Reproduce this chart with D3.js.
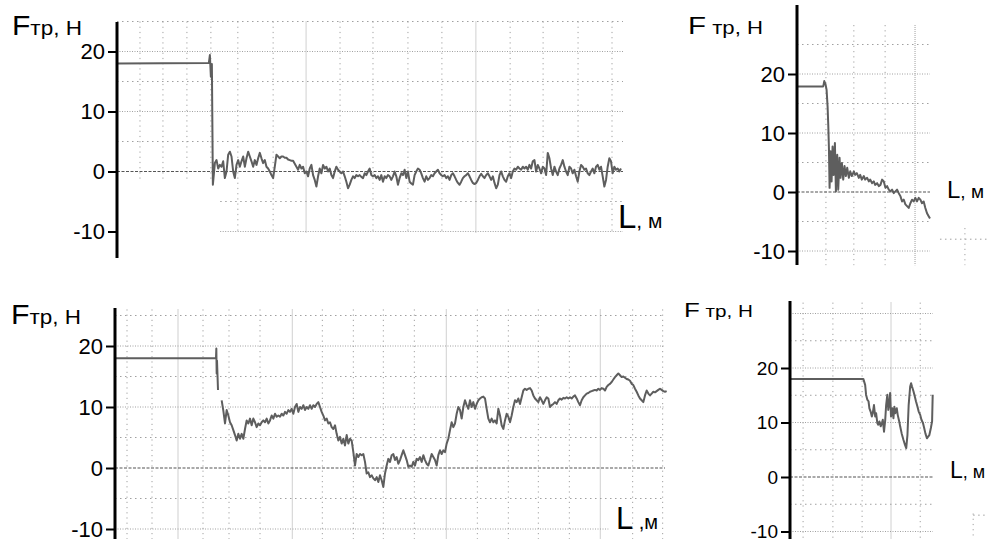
<!DOCTYPE html>
<html>
<head>
<meta charset="utf-8">
<script src="https://cdn.jsdelivr.net/npm/d3@7"></script>
<style>
  body { margin: 0; background: #fff; }
  svg { display: block; font-family: Arial, "Liberation Sans", sans-serif; }
</style>
</head>
<body>
<div class="chart"></div>
<script>
const width = 988
const height = 539

// Friction force F (N) against path L (m), four runs

const yTicks = [20, 10, 0, -10]
const gridF = [25, 20, 15, 10, 5, 0, -5, -10]
const gridF4 = [30, 25, 20, 15, 10, 5, 0, -5, -10]

// run 1 - top left
const run1Flat = [[0, 18.0], [2.76, 18.1], [2.79, 19.4], [2.82, 15.8], [2.85, 17.9], [2.88, -2.2]]
const run1Start = 2.94
const run1Step = 0.05
const run1F = [
  1.4, 1.9, 0.5, 1.1, 0.8, 1.7, -1.1, 0, 2.8, 3.3, 2.5, 0, -1.1, 1.1, 1.9, 0.8, 1.7, 2.5, 0.8, 2.2,
  3.3, 2.5, 1.7, 0.8, 1.9, 1.1, 2.2, 3.1, 2.2, 1.4, 1.9, 0.8, 0.5, 0, -0.6, -1.1, 0.8, 2.8, 2.5, 2.2,
  2.5, 2.5, 2.3, 2.3, 2.0, 1.9, 1.8, 1.8, 1.3, 0.8, 0.3, 1.1, 0.5, 0.8, -0.3, 0, -0.8, 0.5, 1.1, -0.6,
  -1.4, -2.5, -0.8, 0.5, -0.3, 1.1, 0.5, 0.8, 0, 0.5, -0.6, -1.1, 0, 0.8, 0.3, 0, -0.3, 0, -0.8, -1.7,
  -2.8, -2.2, -1.4, -0.8, -1.1, -0.6, -0.8, -0.6, -0.9, -1.1, -0.3, -0.6, 0, 0.5, -0.6, -0.8, -0.6, -1.1, -0.8, -1.4,
  -0.6, -1.7, -0.8, -1.1, -0.6, -0.8, -1.4, -0.8, 0, -0.8, -2.2, -1.1, -0.3, -0.6, 0.3, -1.1, 0, -1.7, -2.0, -2.2,
  -0.6, 0, 0.5, 0.3, -0.3, -1.1, -1.7, -0.8, -1.4, -1.1, -0.6, -0.8, -0.3, 0, 0.3, -0.3, -0.6, -0.8, -0.6, -1.1,
  -0.8, -1.4, -0.6, -0.3, -0.8, -1.4, -1.9, -2.2, -1.7, -1.1, -0.8, -0.6, -0.3, -0.8, -1.4, -1.9, -2.1, -1.9, -1.4, -0.8,
  -0.4, -0.8, -1.1, -0.6, -0.3, -0.8, -1.4, -0.8, -1.9, -2.8, -2.2, -0.6, 0, -0.8, -1.4, -1.7, -0.8, -0.3, -1.1, 0,
  0.5, 0.3, 0.8, 0.5, 0.3, 0.8, 0.5, 0.8, 0.3, 1.1, 0.5, 1.7, 1.9, 0, 1.1, 0.5, -0.3, 0.8, 0.5, -0.6,
  3.1, 2.2, 0.5, -0.6, 0.8, 0, -0.6, 0.5, 1.1, 1.9, 0.8, 0, -0.6, 0.8, 0.5, -0.3, 0.3, -0.8, -1.7, 0,
  1.1, 0.8, 0.3, 0.5, -0.3, -0.6, 0, 0.5, -0.3, 0.8, 1.1, 0.3, 0.8, -0.8, -2.5, -1.4, 0.8, 2.2, 1.7, -0.3,
  0.8, 0.3, 0.5, 0, 0.5
]
const run1GridL = [0.69, 1.38, 2.10, 2.82, 3.63, 4.69, 5.68, 6.70, 7.69, 8.74, 9.76, 10.78, 11.81, 12.80, 13.85, 14.87]
const run1StrongL = [5.68, 10.78]

// run 2 - top right
const run2 = [
  [0, 17.9], [0.79, 17.9], [0.82, 18.8], [0.86, 18.2], [0.89, 17.3], [0.92, 14.5], [0.94, 11.4], [0.96, 7.5],
  [0.98, 0.7], [1.01, 6.9], [1.04, 1.8], [1.07, 7.7], [1.10, 2.9], [1.14, 8.3], [1.17, 0.1], [1.21, 6.3],
  [1.24, 0.4], [1.28, 5.8], [1.31, 2.4], [1.35, 4.9], [1.39, 2.1], [1.43, 4.4], [1.47, 2.7], [1.51, 4.1],
  [1.56, 2.4], [1.60, 3.5], [1.65, 2.7], [1.71, 3.5], [1.75, 2.9], [1.80, 3.2], [1.86, 2.4], [1.90, 2.9],
  [1.95, 2.1], [2.01, 2.7], [2.05, 2.1], [2.11, 2.4], [2.16, 1.8], [2.20, 2.1], [2.26, 1.5], [2.31, 1.8],
  [2.35, 1.2], [2.41, 1.5], [2.46, 1.0], [2.51, 1.2], [2.56, 2.1], [2.61, 1.8], [2.66, 0.7], [2.71, 1.0],
  [2.76, 0.4], [2.81, 0.1], [2.86, 0.4], [2.91, -0.2], [2.96, 0.1], [3.01, 0.4], [3.06, -0.2], [3.11, -0.7],
  [3.16, -1.6], [3.21, -1.3], [3.26, -2.1], [3.31, -2.4], [3.36, -2.7], [3.41, -1.9], [3.46, -1.3], [3.51, -1.6],
  [3.56, -1.0], [3.61, -1.6], [3.66, -1.0], [3.71, -1.3], [3.76, -1.9], [3.81, -1.6], [3.86, -2.7], [3.91, -3.6],
  [3.96, -4.1], [4.0, -4.5]
]
const run2GridL = [0.87, 1.71, 2.65, 3.55]
const run2StrongL = [3.55]

// run 3 - bottom left
const run3Flat = [[0, 18.0], [3.03, 18.0], [3.04, 19.6], [3.05, 15.5], [3.06, 17.6], [3.09, 12.8]]
const run3Start = 3.20
const run3Step = 0.05
const run3F = [
  11.1, 9.4, 7.3, 9.5, 8.6, 7.5, 7.0, 6.2, 5.4, 4.5, 5.6, 4.8, 5.6, 4.8, 6.4, 7.8, 7.3, 8.1, 7.0, 8.1,
  7.5, 6.7, 7.3, 7.0, 7.5, 7.8, 7.5, 8.1, 7.3, 7.8, 8.6, 8.1, 8.9, 8.4, 8.6, 8.4, 8.9, 8.6, 9.2, 8.9,
  9.5, 9.2, 9.7, 8.9, 10.0, 10.5, 9.2, 10.0, 9.7, 10.3, 9.5, 10.0, 9.7, 10.3, 9.7, 10.3, 10.0, 10.5, 10.8, 10.0,
  9.2, 8.6, 7.8, 8.1, 7.3, 7.5, 6.7, 6.4, 7.0, 5.6, 4.5, 5.1, 4.0, 4.8, 3.7, 5.4, 4.0, 4.8, 4.5, 2.6,
  0.4, 2.3, 1.8, 2.3, 2.1, 2.3, 1.0, -0.9, -0.7, -1.5, -1.2, -1.7, -2.0, -1.5, -2.3, -1.2, -2.0, -3.1, -0.9, 0.4,
  1.5, 1.0, 2.1, 2.3, 1.3, 1.8, 0.7, 1.3, 2.1, 2.9, 2.1, 1.3, 0.2, 0.4, 0.2, 1.0, 0.4, 1.5, 1.3, 1.8,
  1.0, 2.1, 1.3, 0.7, 0.4,
  1.3, 2.3, 1.8, 1.3, 0.4, 2.1, 2.9, 2.3, 2.9, 2.6, 4.0, 4.8, 6.2, 7.5, 6.7, 7.3, 8.9, 10.0, 9.5, 8.1,
  10.0, 11.1, 10.3, 9.7, 11.1, 10.0, 10.8, 9.7, 10.5, 11.1, 11.4, 11.6, 11.7, 11.4, 9.7, 8.1, 7.5, 8.1, 7.5, 7.8,
  7.3, 9.7, 8.6, 7.0, 6.4, 7.8, 8.9, 8.4, 7.5, 8.6, 10.0, 11.1, 10.8, 11.4, 10.5, 11.6, 12.7, 13.0, 12.8, 13.0,
  13.1, 12.7, 11.9, 11.4, 11.1, 10.8, 11.6, 11.1, 10.5, 11.1, 11.6, 11.4, 10.0, 10.3, 10.5, 10.8, 10.5, 11.1, 11.4, 11.2,
  11.5, 11.4, 11.6, 11.4, 11.6, 11.4, 11.7, 11.9, 11.4, 10.8, 10.3, 11.1, 11.6, 11.9, 12.2, 12.3, 12.5, 12.6, 12.7, 12.8,
  12.7, 13.0, 12.8, 13.1, 13.0, 12.7, 13.3, 13.6, 13.8, 14.1, 14.5, 14.9, 15.2, 15.5, 15.2, 14.9, 15.0, 14.8, 14.6, 14.5,
  14.3, 13.8, 13.6, 13.0, 12.5, 11.9, 11.4, 11.1, 10.8, 11.9, 12.7, 12.2, 11.9, 12.2, 12.5, 12.4, 12.6, 12.8, 13.0, 12.8,
  12.6, 12.5, 12.6
]
const run3GridL = [0.36, 1.11, 1.89, 2.64, 3.42, 4.35, 5.32, 6.22, 7.15, 8.05, 8.98, 9.94, 10.87, 11.80, 12.70, 13.63, 14.56, 15.53, 16.43]
const run3StrongL = [1.89, 5.32, 9.94, 14.56]

// run 4 - bottom right
const run4 = [
  [0, 18.0], [2.41, 18.0], [2.47, 16.9], [2.50, 15.1], [2.54, 14.2], [2.58, 13.9], [2.61, 12.6], [2.65, 12.0],
  [2.69, 11.1], [2.72, 11.7], [2.76, 13.2], [2.80, 11.1], [2.83, 11.7], [2.87, 9.9], [2.90, 9.6], [2.94, 10.2],
  [2.98, 9.3], [3.02, 9.9], [3.05, 10.5], [3.09, 8.3], [3.13, 10.5], [3.16, 13.2], [3.20, 15.1], [3.23, 12.3],
  [3.27, 13.9], [3.29, 15.4], [3.32, 11.1], [3.36, 12.6], [3.40, 10.8], [3.43, 12.9], [3.46, 11.7], [3.51, 12.6],
  [3.54, 11.4], [3.59, 10.2], [3.62, 9.3], [3.67, 8.0], [3.73, 6.8], [3.78, 5.9], [3.82, 5.3], [3.86, 7.7],
  [3.90, 13.2], [3.95, 16.6], [3.98, 17.2], [4.01, 16.6], [4.06, 15.7], [4.10, 14.8], [4.14, 13.9], [4.19, 12.9],
  [4.23, 12.0], [4.28, 11.4], [4.32, 10.5], [4.37, 9.9], [4.41, 9.0], [4.45, 8.0], [4.50, 7.1], [4.54, 7.4],
  [4.58, 7.7], [4.63, 9.0], [4.67, 10.2], [4.69, 15.1]
]
const run4GridL = [0.43, 1.41, 2.37, 3.32, 4.28]
const run4StrongL = [3.32]

// build [L, F] points for the evenly sampled parts
function sampled(start, step, values) {
  return values.map((f, i) => [start + i * step, f])
}

// layout of the four panels (pixels)
const panels = [
  {
    xRange: [117, 623], xDomain: [0, 15.2], yRange: [231.5, 51.5], axisTop: 22, axisBottom: 258,
    series: [run1Flat.concat(sampled(run1Start, run1Step, run1F))],
    hGrid: gridF, hFrom: f => f < 0 ? 3.1 : 0, hTo: 15.2,
    vGrid: run1GridL, strong: run1StrongL, vTop: 25, vBottom: l => l < 3 ? -1.5 : -10.3,
    extra: [],
    tickSize: 22,
    title: { x: 12, y: 35, w: 70, parts: [["F", 28], ["тр, Н", 21]] },
    lLabel: { x: 618, y: 228, parts: [["L", 33], [", м", 21]] }
  },
  {
    xRange: [797, 930], xDomain: [0, 4], yRange: [251, 74], axisTop: 5, axisBottom: 265,
    series: [run2],
    hGrid: gridF, hFrom: () => 0, hTo: 4,
    vGrid: run2GridL, strong: run2StrongL, vTop: 28.3, vBottom: () => -12.4,
    extra: [{ h: -8, from: 4.3, to: 5.8 }, { v: 5.05, from: -6.1, to: -12.4 }],
    tickSize: 22,
    title: { x: 688, y: 34, w: 75, parts: [["F", 24], [" тр, Н", 18]] },
    lLabel: { x: 947, y: 198, parts: [["L", 24], [", м", 19]] }
  },
  {
    xRange: [115, 665], xDomain: [0, 16.5], yRange: [529, 346], axisTop: 308, axisBottom: 539,
    series: [run3Flat, sampled(run3Start, run3Step, run3F)],
    hGrid: gridF, hFrom: () => 0, hTo: f => f === -10 ? 14.8 : 16.5,
    vGrid: run3GridL, strong: run3StrongL, vTop: 26, vBottom: () => -12,
    extra: [],
    tickSize: 22,
    title: { x: 11, y: 324, w: 70, parts: [["F", 27], ["тр, Н", 20]] },
    lLabel: { x: 616, y: 529, parts: [["L", 31], [" ,м", 20]] }
  },
  {
    xRange: [790, 933], xDomain: [0, 4.7], yRange: [531.5, 368], axisTop: 301, axisBottom: 539,
    series: [run4],
    hGrid: gridF4, hFrom: () => 0, hTo: 4.7,
    vGrid: run4GridL, strong: run4StrongL, vTop: 32, vBottom: () => -11.5,
    extra: [{ h: -7, from: 6.02, to: 6.6 }, { v: 6.02, from: -6.7, to: -11.5 }],
    tickSize: 19,
    title: { x: 684, y: 317, w: 69, parts: [["F", 20], [" тр, Н", 16]] },
    lLabel: { x: 950, y: 478, parts: [["L", 23], [", м", 18]] }
  }
]

const svg = d3.select('.chart').append('svg')
  .attr("width", width)
  .attr("height", height)
  .attr("viewBox", [0, 0, width, height])

panels.forEach(p => drawPanel(svg.append("g"), p))

function gridStyle(sel, kind) {
  if (kind === "zero") {
    sel.attr("stroke", "#555").attr("stroke-width", 1.2).attr("stroke-dasharray", "3,1.5")
  } else if (kind === "major") {
    sel.attr("stroke", "#a0a0a0").attr("stroke-width", 1).attr("stroke-dasharray", "1,1.5")
  } else if (kind === "strong") {
    sel.attr("stroke", "#b0b0b0").attr("stroke-width", 1.2).attr("stroke-dasharray", "1,1")
  } else if (kind === "vert") {
    sel.attr("stroke", "#a0a0a0").attr("stroke-width", 1).attr("stroke-dasharray", "1.2,4")
  } else {
    sel.attr("stroke", "#a0a0a0").attr("stroke-width", 1).attr("stroke-dasharray", "1.5,3.5")
  }
}

function drawPanel(g, p) {
  const x = d3.scaleLinear().domain(p.xDomain).range(p.xRange)
  const y = d3.scaleLinear().domain([-10, 20]).range(p.yRange)
  const hTo = typeof p.hTo === "function" ? p.hTo : () => p.hTo

  // vertical grid
  g.append("g").selectAll("line")
    .data(p.vGrid)
    .join("line")
      .attr("x1", d => x(d)).attr("x2", d => x(d))
      .attr("y1", y(p.vTop)).attr("y2", d => y(p.vBottom(d)))
      .each(function (d) { gridStyle(d3.select(this), p.strong.includes(d) ? "strong" : "vert") })

  // horizontal grid
  g.append("g").selectAll("line")
    .data(p.hGrid)
    .join("line")
      .attr("x1", d => x(p.hFrom(d))).attr("x2", d => x(hTo(d)))
      .attr("y1", d => y(d)).attr("y2", d => y(d))
      .each(function (d) {
        gridStyle(d3.select(this), d === 0 ? "zero" : d % 10 === 0 ? "major" : "minor")
      })

  // bits of a neighbouring grid that show at the edge
  p.extra.forEach(e => {
    const ln = g.append("line")
    if (e.h !== undefined) {
      ln.attr("x1", x(e.from)).attr("x2", x(e.to)).attr("y1", y(e.h)).attr("y2", y(e.h))
      gridStyle(ln, "minor")
    } else {
      ln.attr("x1", x(e.v)).attr("x2", x(e.v)).attr("y1", y(e.from)).attr("y2", y(e.to))
      gridStyle(ln, "vert")
    }
  })

  // traces
  const line = d3.line().x(d => x(d[0])).y(d => y(d[1]))
  g.append("g").selectAll("path")
    .data(p.series)
    .join("path")
      .attr("d", line)
      .attr("fill", "none")
      .attr("stroke", "#5e5e5e")
      .attr("stroke-width", 2)
      .attr("stroke-linejoin", "round")

  // y axis: ticks + labels, then a heavy spine
  const axis = g.append("g")
    .attr("transform", `translate(${p.xRange[0]},0)`)
    .call(d3.axisLeft(y).tickValues(yTicks).tickSize(9).tickPadding(3).tickFormat(d => String(d)))
  axis.select(".domain").remove()
  axis.selectAll(".tick line").attr("stroke", "#000").attr("stroke-width", 2)
  axis.selectAll(".tick text")
    .attr("fill", "#000")
    .style("font-size", p.tickSize + "px")
    .style("font-family", "Arial, 'Liberation Sans', sans-serif")

  g.append("line")
    .attr("x1", p.xRange[0]).attr("x2", p.xRange[0])
    .attr("y1", p.axisTop).attr("y2", p.axisBottom)
    .attr("stroke", "#000")
    .attr("stroke-width", 3)

  // axis titles
  const t = g.append("text").attr("fill", "#000")
  t.selectAll("tspan")
    .data(p.title.parts)
    .join("tspan")
      .style("font-size", d => d[1] + "px")
      .text(d => d[0])
  const tw = t.node().getBBox().width
  t.attr("transform", `translate(${p.title.x},${p.title.y}) scale(${p.title.w / tw},1)`)

  const l = g.append("text")
    .attr("x", p.lLabel.x)
    .attr("y", p.lLabel.y)
    .attr("fill", "#000")
  l.selectAll("tspan")
    .data(p.lLabel.parts)
    .join("tspan")
      .style("font-size", d => d[1] + "px")
      .text(d => d[0])
}
</script>
</body>
</html>
